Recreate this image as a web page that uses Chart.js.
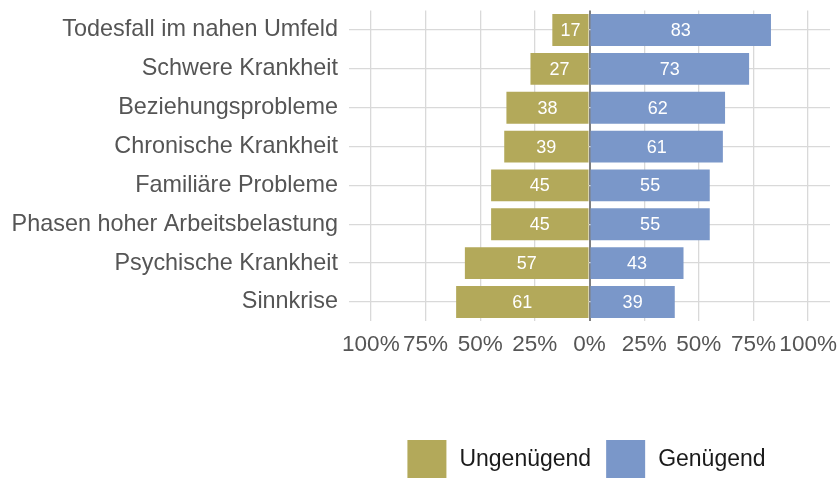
<!DOCTYPE html>
<html>
<head>
<meta charset="utf-8">
<script src="https://cdn.jsdelivr.net/npm/chart.js@4.4.1/dist/chart.umd.min.js"></script>
<style>
  html, body { margin: 0; padding: 0; background: #fff; }
  #wrap { width: 840px; height: 478px; }
</style>
</head>
<body>
<div id="wrap"><canvas id="chart"></canvas></div>
<script>
// Daten
const kategorien = [
    'Todesfall im nahen Umfeld',
    'Schwere Krankheit',
    'Beziehungsprobleme',
    'Chronische Krankheit',
    'Familiäre Probleme',
    'Phasen hoher Arbeitsbelastung',
    'Psychische Krankheit',
    'Sinnkrise'
];
const ungenuegend = [17, 27, 38, 39, 45, 45, 57, 61];
const genuegend = [83, 73, 62, 61, 55, 55, 43, 39];
const serien = ['Ungenügend', 'Genügend'];
const xTicks = [-100, -75, -50, -25, 0, 25, 50, 75, 100];

const farben = ['#B3A95A', '#7A97C9'];
const schrift = '"Liberation Sans", Arial, Helvetica, sans-serif';

// Zahlen in die Balken schreiben
const balkenWerte = {
    id: 'balkenWerte',
    afterDatasetsDraw(chart) {
        const ctx = chart.ctx;
        ctx.save();
        ctx.fillStyle = '#ffffff';
        ctx.font = '18px ' + schrift;
        ctx.textAlign = 'center';
        ctx.textBaseline = 'middle';
        chart.data.datasets.forEach((ds, i) => {
            chart.getDatasetMeta(i).data.forEach((bar, j) => {
                const x = (bar.x + bar.base) / 2;
                ctx.fillText(Math.abs(ds.data[j]), x, bar.y + 1);
            });
        });
        ctx.restore();
    }
};

// Legende unter der Grafik, zentriert unter dem Plotbereich
const legendeUnten = {
    id: 'legendeUnten',
    afterDraw(chart) {
        const ctx = chart.ctx;
        const area = chart.chartArea;
        const box = 39, boxH = 38, gap = 13, abstand = 15;
        ctx.save();
        ctx.font = '23px ' + schrift;
        ctx.textBaseline = 'middle';
        let breite = 0;
        chart.data.datasets.forEach((ds, i) => {
            breite += box + gap + ctx.measureText(ds.label).width;
            if (i > 0) breite += abstand;
        });
        let x = (area.left + area.right) / 2 - breite / 2 - 3;
        const y = 440;
        chart.data.datasets.forEach((ds) => {
            ctx.fillStyle = ds.backgroundColor;
            ctx.fillRect(x, y, box, boxH);
            x += box + gap;
            ctx.fillStyle = '#1a1a1a';
            ctx.fillText(ds.label, x, y + boxH / 2 + 1);
            x += ctx.measureText(ds.label).width + abstand;
        });
        ctx.restore();
    }
};

new Chart(document.getElementById('chart'), {
    type: 'bar',
    data: {
        labels: kategorien,
        datasets: [
            {
                label: serien[0],
                data: ungenuegend.map(v => -v),
                backgroundColor: farben[0],
                barPercentage: 0.82,
                categoryPercentage: 1
            },
            {
                label: serien[1],
                data: genuegend,
                backgroundColor: farben[1],
                barPercentage: 0.82,
                categoryPercentage: 1
            }
        ]
    },
    options: {
        indexAxis: 'y',
        responsive: true,
        maintainAspectRatio: false,
        animation: false,
        layout: {
            padding: { top: 10.6, right: 10, bottom: 116.6, left: 0 }
        },
        scales: {
            x: {
                stacked: true,
                min: -110,
                max: 110,
                afterBuildTicks: (scale) => {
                    scale.ticks = xTicks.map(v => ({ value: v }));
                },
                afterFit: (scale) => {
                    scale.height = 40;
                    scale.paddingLeft = 0;
                    scale.paddingRight = 0;
                },
                border: { display: false },
                grid: {
                    drawTicks: false,
                    color: (c) => c.tick && c.tick.value === 0 ? '#7f7f7f' : '#d9d9d9',
                    lineWidth: (c) => c.tick && c.tick.value === 0 ? 2 : 1.3
                },
                ticks: {
                    padding: 10,
                    maxRotation: 0,
                    autoSkip: false,
                    color: '#555555',
                    font: { family: schrift, size: 22.5 },
                    callback: (v) => Math.abs(v) + '%'
                }
            },
            y: {
                stacked: true,
                afterFit: (scale) => {
                    scale.width = 349;
                    scale.paddingTop = 0;
                    scale.paddingBottom = 0;
                },
                border: { display: false },
                grid: {
                    offset: false,
                    drawTicks: false,
                    color: '#d9d9d9',
                    lineWidth: 1.3
                },
                ticks: {
                    padding: 11,
                    color: '#555555',
                    font: { family: schrift, size: 23.4 }
                }
            }
        },
        plugins: {
            legend: { display: false },
            tooltip: { enabled: false }
        }
    },
    plugins: [balkenWerte, legendeUnten]
});
</script>
</body>
</html>
